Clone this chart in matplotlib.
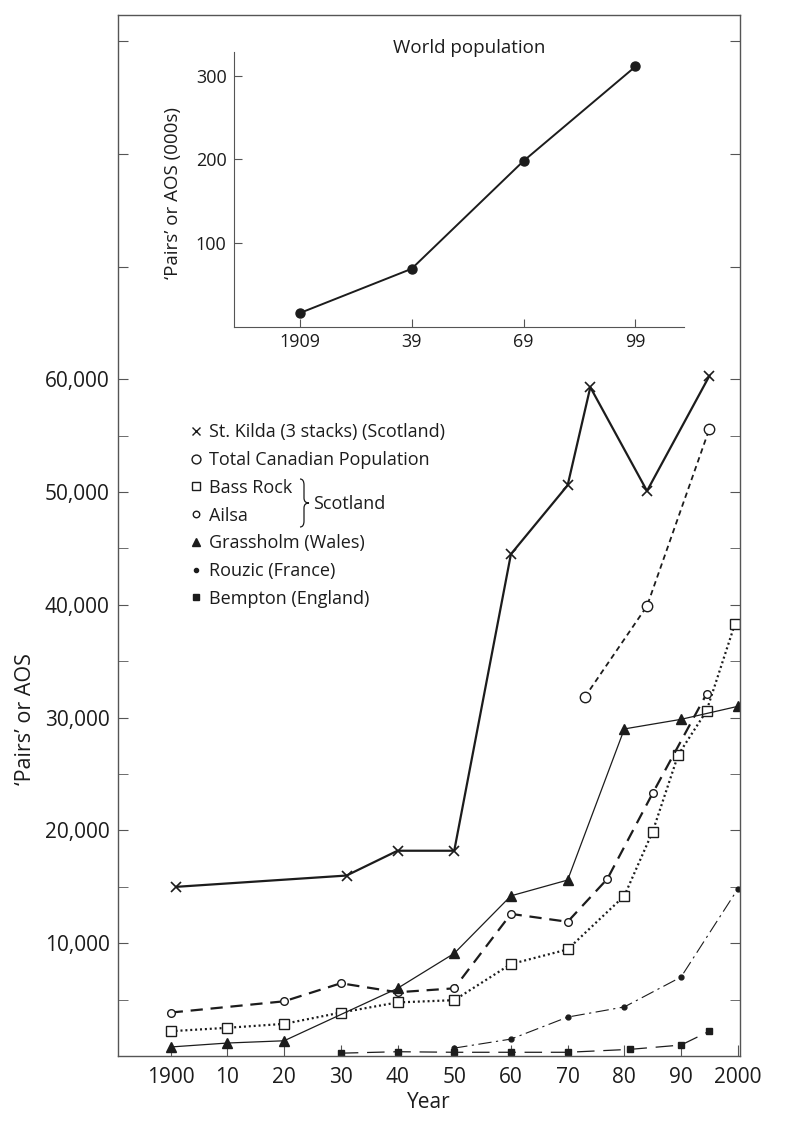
import numpy as np
import matplotlib.pyplot as plt
from matplotlib.lines import Line2D
from matplotlib.path import Path
from matplotlib.patches import PathPatch

plt.rcParams['font.family'] = ['Open Sans', 'DejaVu Sans']

# main chart data
kilda_yr = [1901, 1931, 1940, 1950, 1960, 1970, 1974, 1984, 1995]
kilda_n = [15000, 16000, 18200, 18200, 44500, 50600, 59300, 50100, 60300]

canada_yr = [1973, 1984, 1995]
canada_n = [31800, 39900, 55600]

bass_yr = [1900, 1910, 1920, 1930, 1940, 1950, 1960, 1970, 1980, 1985, 1989.5, 1994.5, 1999.5]
bass_n = [2200, 2500, 2850, 3850, 4750, 4950, 8150, 9450, 14200, 19900, 26700, 30600, 38300]

ailsa_yr = [1900, 1920, 1930, 1940, 1950, 1960, 1970, 1977, 1985, 1994.5]
ailsa_n = [3850, 4850, 6450, 5650, 6000, 12600, 11900, 15700, 23300, 32100]

grass_yr = [1900, 1910, 1920, 1940, 1950, 1960, 1970, 1980, 1990, 2000]
grass_n = [800, 1150, 1350, 6000, 9100, 14200, 15600, 29000, 29850, 31000]

rouzic_yr = [1950, 1960, 1970, 1980, 1990, 2000]
rouzic_n = [700, 1500, 3450, 4350, 7000, 14800]

bempton_yr = [1930, 1940, 1950, 1960, 1970, 1981, 1990, 1995]
bempton_n = [250, 380, 330, 330, 330, 590, 970, 2200]

year_ticks = [1900, 1910, 1920, 1930, 1940, 1950, 1960, 1970, 1980, 1990, 2000]
year_labels = ['1900', '10', '20', '30', '40', '50', '60', '70', '80', '90', '2000']

# inset data (thousands)
world_yr = [1909, 1939, 1969, 1999]
world_n = [16, 69, 198, 311]
world_labels = ['1909', '39', '69', '99']

ink = '#1c1c1c'
W, H = 786, 1126

fig = plt.figure(figsize=(W / 100, H / 100), dpi=100)
ax = fig.add_axes([118 / W, 1 - 1056 / H, (740 - 118) / W, (1056 - 15) / H])

ax.plot(kilda_yr, kilda_n, color=ink, lw=1.6, marker='x', ms=7, mew=1.2,
        label='St. Kilda (3 stacks) (Scotland)')
ax.plot(canada_yr, canada_n, color=ink, lw=1.3, ls=(0, (3.0, 2.2)), marker='o', ms=7.5,
        mfc='white', mew=1.0, label='Total Canadian Population')
ax.plot(bass_yr, bass_n, color=ink, lw=1.6, ls=(0, (0.9, 1.3)), marker='s', ms=7,
        mfc='white', mew=1.0, label='Bass Rock')
ax.plot(ailsa_yr, ailsa_n, color=ink, lw=1.6, ls=(0, (5.5, 3.5)), marker='o', ms=5.5,
        mfc='white', mew=1.0, label='Ailsa')
ax.plot(grass_yr, grass_n, color=ink, lw=0.9, marker='^', ms=6.5,
        label='Grassholm (Wales)')
ax.plot(rouzic_yr, rouzic_n, color=ink, lw=0.8, ls=(0, (12, 4, 2, 4)), marker='o', ms=3.5,
        label='Rouzic (France)')
ax.plot(bempton_yr, bempton_n, color=ink, lw=0.9, ls=(0, (14, 7)), marker='s', ms=4.5,
        label='Bempton (England)')

ax.set_xlim(1890.7, 2000.4)
ax.set_ylim(0, 92300)
ax.set_xticks(year_ticks)
ax.set_xticklabels(year_labels)
ax.set_yticks(np.arange(10000, 90001, 10000))
ax.set_yticklabels(['{:,}'.format(v) if v <= 60000 else '' for v in range(10000, 90001, 10000)])
ax.set_yticks(np.arange(5000, 60000, 10000), minor=True)
ax.tick_params(axis='both', labelsize=15, colors=ink)
ax.tick_params(axis='x', direction='in', length=8, pad=8, color='#555555')
ax.tick_params(axis='y', which='both', direction='in', length=7, pad=6, right=True, color='#555555')
for s in ax.spines.values():
    s.set_color('#555555')
    s.set_linewidth(1.0)

ax.set_xlabel('Year', fontsize=15, color=ink)
ax.xaxis.set_label_coords(0.5, -0.045)
ax.xaxis.label.set_va('center')
ax.set_ylabel('\u2018Pairs\u2019 or AOS', fontsize=15.5, color=ink)
ax.yaxis.set_label_coords(-0.1495, 0.324)
ax.yaxis.label.set_va('center')

# legend: markers only
handles = []
for ln in ax.get_lines():
    handles.append(Line2D([], [], ls='none', marker=ln.get_marker(), ms=ln.get_markersize() * 0.85,
                          mfc=ln.get_markerfacecolor(), mec=ink, mew=1.0, color=ink))
leg = ax.legend(handles, [ln.get_label() for ln in ax.get_lines()], loc='center left',
                bbox_to_anchor=(189 / W, 1 - 515.5 / H), bbox_transform=fig.transFigure,
                frameon=False, fontsize=13, handlelength=0.8, handletextpad=0.32,
                labelspacing=0.54, borderpad=0, borderaxespad=0, numpoints=1)
for t in leg.get_texts():
    t.set_color(ink)

# brace grouping Bass Rock and Ailsa
x0, xm, xt = 300, 304, 309
yt, ym, yb = 479, 503, 527
pts = [(x0, yt), (xm, yt), (xm, yt + 6), (xm, ym - 5), (xm, ym), (xt, ym),
       (xm, ym), (xm, ym + 5), (xm, yb - 6), (xm, yb), (x0, yb)]
codes = [Path.MOVETO, Path.CURVE3, Path.CURVE3, Path.LINETO, Path.CURVE3, Path.CURVE3,
         Path.CURVE3, Path.CURVE3, Path.LINETO, Path.CURVE3, Path.CURVE3]
brace = Path([(px / W, 1 - py / H) for px, py in pts], codes)
fig.add_artist(PathPatch(brace, transform=fig.transFigure, fill=False, lw=0.9, ec=ink))
fig.text(313 / W, 1 - 504 / H, 'Scotland', fontsize=13, color=ink, va='center', ha='left')

# inset: world population
axi = fig.add_axes([233.6 / W, 1 - 326.5 / H, 450.4 / W, 274.8 / H])
axi.plot(world_yr, world_n, color=ink, lw=1.4, marker='o', ms=6.5)
axi.set_xlim(1891.3, 2012)
axi.set_ylim(0, 328.7)
axi.set_xticks(world_yr)
axi.set_xticklabels(world_labels)
axi.set_yticks([100, 200, 300])
axi.tick_params(labelsize=13, colors=ink, direction='in', length=6, pad=5)
axi.tick_params(axis='both', color='#555555')
axi.spines['top'].set_visible(False)
axi.spines['right'].set_visible(False)
for s in ['left', 'bottom']:
    axi.spines[s].set_color('#555555')
axi.patch.set_alpha(0)
axi.set_ylabel('\u2018Pairs\u2019 or AOS (000s)', fontsize=13.5, color=ink)
axi.yaxis.set_label_coords(-0.1345, 0.485)
axi.yaxis.label.set_va('center')
axi.text(0.5226, 1.013, 'World population', transform=axi.transAxes, fontsize=13.5,
         color=ink, ha='center', va='center')

fig.savefig('out.png', dpi=100, facecolor='white')
